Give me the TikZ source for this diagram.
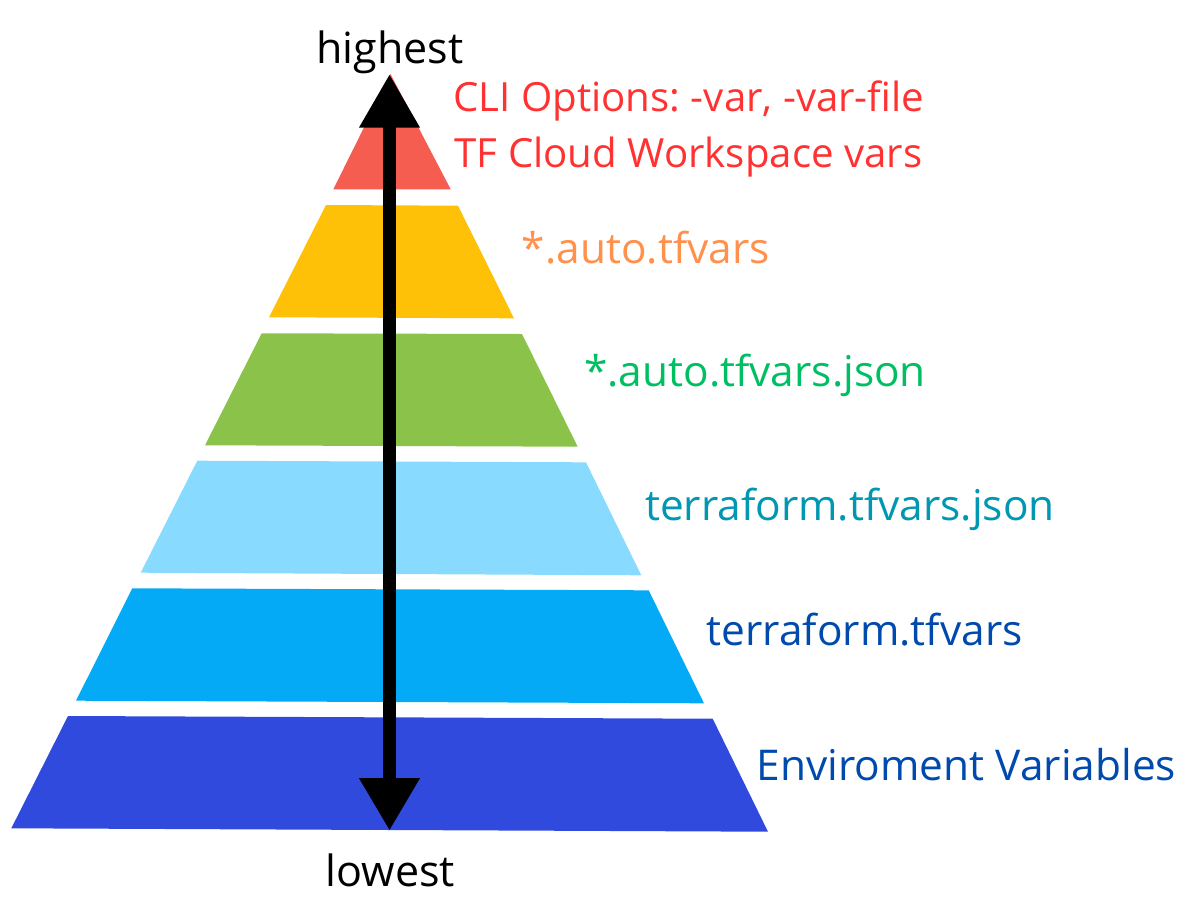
\documentclass[tikz,border=0pt]{standalone}
\usepackage{fontspec}
\setmainfont{Open Sans}
\usetikzlibrary{arrows.meta}
\definecolor{cRed}{HTML}{F45D50}
\definecolor{cYellow}{HTML}{FFC107}
\definecolor{cGreen}{HTML}{8BC34A}
\definecolor{cLight}{HTML}{88DAFE}
\definecolor{cBlue}{HTML}{04AAF5}
\definecolor{cDark}{HTML}{304ADD}
\definecolor{tRed}{HTML}{FF3131}
\definecolor{tOrange}{HTML}{FF914D}
\definecolor{tGreen}{HTML}{00BF63}
\definecolor{tTeal}{HTML}{0097B2}
\definecolor{tNavy}{HTML}{004AAD}
\frenchspacing
\begin{document}
\begin{tikzpicture}[x=1pt,y=-1pt,
  lbl/.style={anchor=base west,inner sep=0pt,font=\fontsize{42.4}{50}\selectfont},
  redlbl/.style={lbl,font=\fontsize{40.2}{48}\selectfont,text=tRed},
  endlbl/.style={anchor=base,inner sep=0pt,font=\fontsize{43}{50}\selectfont,text=black}]
\useasboundingbox (0,0) rectangle (1192,919);
% pyramid layers
\fill[cRed] (390.5,74) -- (450.7,189.3) -- (333.3,189.3) -- cycle;
\fill[cYellow] (326,205) -- (458,205.7) -- (514,318.3) -- (269,317.3) -- cycle;
\fill[cGreen] (261.7,333.3) -- (522,334) -- (577.7,446.7) -- (205,445.3) -- cycle;
\fill[cLight] (197.3,460.7) -- (586,462.3) -- (641.3,575.3) -- (140.7,572.7) -- cycle;
\fill[cBlue] (132.3,588.3) -- (648.7,590.3) -- (704,703.3) -- (76,700.7) -- cycle;
\fill[cDark] (68,716) -- (712.7,718.7) -- (768,831.7) -- (11.3,828.3) -- cycle;
% arrow
\coordinate (top) at (389.5,74);
\coordinate (bot) at (389.5,830.7);
\draw[line width=13pt,{Triangle[length=53.5pt,width=57pt]}-{Triangle[length=52.5pt,width=57pt]}] (top) -- (bot);
% end labels
\node[endlbl] (hi) at (390,63.3) {highest};
\node[endlbl] (lo) at (390.3,886) {lowest};
% layer labels
\node[redlbl] (l1) at (453.3,111.7) {CLI Options: -var, -var-file};
\node[redlbl] (l2) at (454.5,167.3) {TF Cloud Workspace vars};
\node[lbl,text=tOrange] (l3) at (521.7,263.3) {*.auto.tfvars};
\node[lbl,text=tGreen] (l4) at (584,386) {*.auto.tfvars.json};
\node[lbl,text=tTeal] (l5) at (645,520) {terraform.tfvars.json};
\node[lbl,text=tNavy] (l6) at (706.7,645) {terraform.tfvars};
\node[lbl,text=tNavy] (l7) at (756.7,780) {Enviroment Variables};
\end{tikzpicture}
\end{document}
